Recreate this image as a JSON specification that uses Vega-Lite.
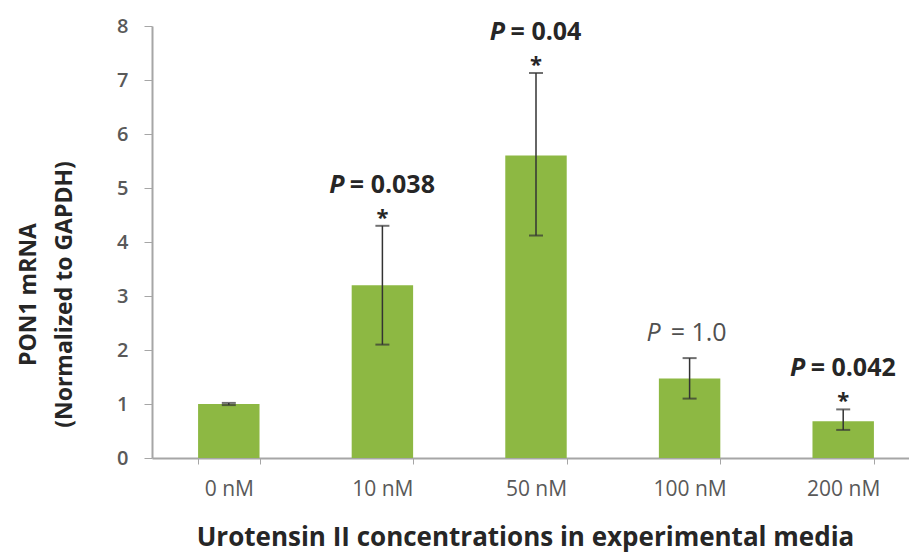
{
  "$schema": "https://vega.github.io/schema/vega-lite/v6.json",
  "width": 757,
  "height": 432,
  "autosize": {"type": "none"},
  "padding": {"left": 152, "top": 26, "right": 0, "bottom": 96},
  "background": "white",
  "config": {"view": {"stroke": null}, "font": "Open Sans"},
  "data": {
    "values": [
      {"conc": "0 nM", "mean": 1.0, "lo": 0.98, "hi": 1.02, "p": null, "sig": false},
      {"conc": "10 nM", "mean": 3.2, "lo": 2.1, "hi": 4.3, "p": "= 0.038", "sig": true},
      {"conc": "50 nM", "mean": 5.6, "lo": 4.12, "hi": 7.13, "p": "= 0.04", "sig": true},
      {"conc": "100 nM", "mean": 1.47, "lo": 1.1, "hi": 1.85, "p": "= 1.0", "sig": false},
      {"conc": "200 nM", "mean": 0.68, "lo": 0.52, "hi": 0.9, "p": "= 0.042", "sig": true}
    ]
  },
  "encoding": {
    "x": {
      "field": "conc",
      "type": "nominal",
      "sort": null,
      "scale": {"range": [0, 768], "paddingInner": 0.6, "paddingOuter": 0.3},
      "axis": {
        "title": "Urotensin II concentrations in experimental media",
        "titleFont": "Open Sans",
        "titleFontSize": 26,
        "titleFontWeight": "bold",
        "titleColor": "#262626",
        "titleX": 373,
        "titleY": 87,
        "titleAlign": "center",
        "titleBaseline": "alphabetic",
        "labelAngle": 0,
        "labelFontSize": 21,
        "labelColor": "#595959",
        "labelPadding": 14,
        "tickBand": "extent",
        "tickSize": 6,
        "tickColor": "#a6a6a6",
        "domainColor": "#a6a6a6",
        "domainWidth": 2
      }
    }
  },
  "layer": [
    {
      "mark": {"type": "bar", "color": "#8db843"},
      "encoding": {
        "y": {
          "field": "mean",
          "type": "quantitative",
          "scale": {"domain": [0, 8], "nice": false},
          "axis": {
            "values": [0, 1, 2, 3, 4, 5, 6, 7, 8],
            "grid": false,
            "title": ["PON1 mRNA", "(Normalized to GAPDH)"],
            "titleFontSize": 23,
            "titleFontWeight": "bold",
            "titleColor": "#262626",
            "titleLineHeight": 36,
            "titleBaseline": "alphabetic",
            "titleAlign": "center",
            "titleX": -117,
            "titleY": 268,
            "titleAngle": -90,
            "labelFontSize": 20,
            "labelFontWeight": 600,
            "labelColor": "#595959",
            "labelPadding": 16,
            "tickSize": 8,
            "tickColor": "#a6a6a6",
            "domainColor": "#a6a6a6",
            "domainWidth": 2
          }
        }
      }
    },
    {
      "mark": {"type": "rule", "color": "#333333", "strokeWidth": 1.5},
      "encoding": {
        "y": {"field": "lo", "type": "quantitative"},
        "y2": {"field": "hi"}
      }
    },
    {
      "mark": {"type": "tick", "color": "#333333", "size": 14, "thickness": 2},
      "encoding": {"y": {"field": "lo", "type": "quantitative"}}
    },
    {
      "mark": {"type": "tick", "color": "#333333", "size": 14, "thickness": 2},
      "encoding": {"y": {"field": "hi", "type": "quantitative"}}
    },
    {
      "transform": [{"filter": "datum.sig === true"}],
      "mark": {"type": "text", "text": "*", "fontSize": 22, "fontWeight": "bold", "baseline": "alphabetic", "dy": -1, "color": "#262626"},
      "encoding": {"y": {"field": "hi", "type": "quantitative"}}
    },
    {
      "transform": [{"filter": "datum.conc === '10 nM' || datum.conc === '200 nM'"}],
      "mark": {"type": "text", "text": "P", "fontSize": 25, "fontWeight": "bold", "fontStyle": "italic", "baseline": "alphabetic", "align": "right", "dy": -33, "dx": -38, "color": "#262626"},
      "encoding": {"y": {"field": "hi", "type": "quantitative"}}
    },
    {
      "transform": [{"filter": "datum.conc === '50 nM'"}],
      "mark": {"type": "text", "text": "P", "fontSize": 25, "fontWeight": "bold", "fontStyle": "italic", "baseline": "alphabetic", "align": "right", "dy": -33, "dx": -31, "color": "#262626"},
      "encoding": {"y": {"field": "hi", "type": "quantitative"}}
    },
    {
      "transform": [{"filter": "datum.sig === true"}],
      "mark": {"type": "text", "fontSize": 25, "fontWeight": "bold", "baseline": "alphabetic", "align": "center", "dy": -33, "dx": 10, "color": "#262626"},
      "encoding": {"y": {"field": "hi", "type": "quantitative"}, "text": {"field": "p"}}
    },
    {
      "transform": [{"filter": "datum.conc === '100 nM'"}],
      "mark": {"type": "text", "text": "P", "fontSize": 25, "fontStyle": "italic", "baseline": "alphabetic", "align": "right", "dy": -17, "dx": -29, "color": "#505050"},
      "encoding": {"y": {"field": "hi", "type": "quantitative"}}
    },
    {
      "transform": [{"filter": "datum.conc === '100 nM'"}],
      "mark": {"type": "text", "fontSize": 25, "baseline": "alphabetic", "align": "center", "dy": -17, "dx": 9, "color": "#505050"},
      "encoding": {"y": {"field": "hi", "type": "quantitative"}, "text": {"field": "p"}}
    }
  ]
}
